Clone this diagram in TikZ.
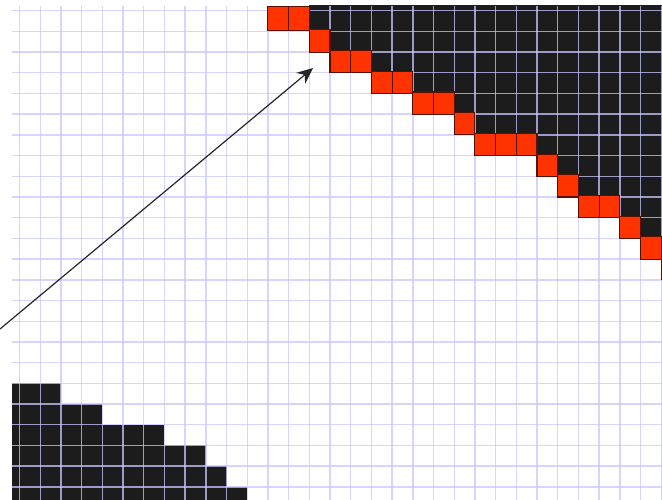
\documentclass[tikz,border=0pt]{standalone}
\usetikzlibrary{arrows.meta}
\definecolor{cellblack}{RGB}{28,28,28}
\definecolor{cellred}{RGB}{255,51,0}
\definecolor{cellredline}{RGB}{90,15,0}
\definecolor{gridcol}{RGB}{200,200,255}
\tikzset{
  gridline/.style={draw=gridcol, line width=1.4pt, opacity=0.75},
  redcell/.style={fill=cellred, draw=cellredline, line width=1.1pt},
  blackfill/.style={fill=cellblack},
  pointer/.style={draw=black!85, line width=1.2pt, -{Stealth[length=16pt,width=14pt]}}
}
\begin{document}
\begin{tikzpicture}[x=1pt,y=-1pt]
\def\VX#1{19.5+20.7*(#1)}
\def\HY#1{10.7+20.7*(#1)}
\fill[white] (0,0) rectangle (662,500);
\useasboundingbox (0,0) rectangle (662,500);
\begin{scope}
\clip (12,6) rectangle (662,500);
% top-right black staircase
\foreach \r/\s in {-1/14,0/14,1/15,2/17,3/19,4/21,5/22,6/25,7/26,8/27,9/29,10/30,11/31,12/32}{
  \fill[blackfill] ({\VX{\s}},{\HY{\r}}) rectangle (662,{\HY{\r+1}});
}
% bottom-left black staircase
\foreach \r/\e in {18/2,19/4,20/7,21/9,22/10,23/11}{
  \fill[blackfill] (12,{\HY{\r}}) rectangle ({\VX{\e}},{\HY{\r+1}});
}
% grid
\foreach \k in {0,...,31}{
  \draw[gridline] ({\VX{\k}},6) -- ({\VX{\k}},500);
}
\foreach \j in {0,...,23}{
  \draw[gridline] (12,{\HY{\j}}) -- (662,{\HY{\j}});
}
% red boundary cells
\draw[redcell] ({\VX{12}},6.5) rectangle ({\VX{13}},{\HY{1}-1});
\draw[redcell] ({\VX{13}},6.5) rectangle ({\VX{14}},{\HY{1}-1});
\foreach \c/\r in {14/1,15/2,16/2,17/3,18/3,19/4,20/4,21/5,22/6,23/6,24/6,25/7,26/8,27/9,28/9,29/10,30/11,31/12}{
  \draw[redcell] ({\VX{\c}},{\HY{\r}-1.5}) rectangle ({\VX{\c+1}},{\HY{\r+1}});
}
\end{scope}
\coordinate (tail) at (0,329);
\coordinate (tip) at (313,68);
\draw[pointer] (tail) -- (tip);
\end{tikzpicture}
\end{document}
